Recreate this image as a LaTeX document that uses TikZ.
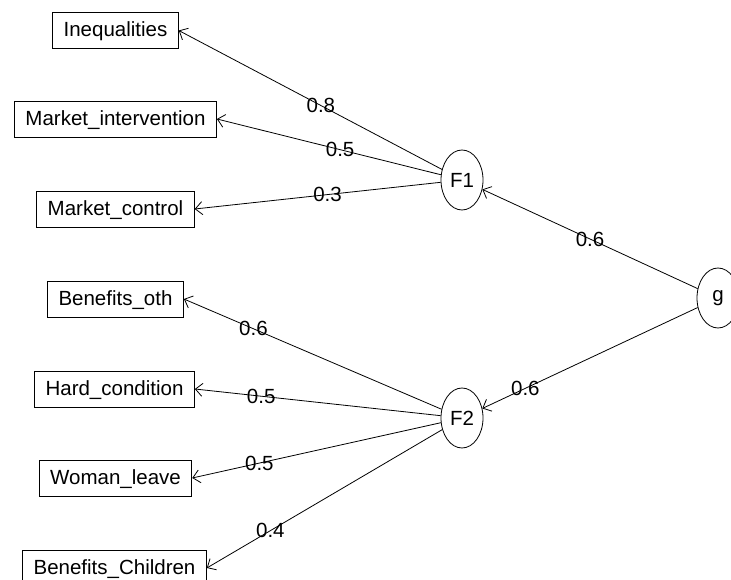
\documentclass[tikz,border=0pt]{standalone}
\usepackage{fontspec}
\setmainfont{Liberation Sans}
\usetikzlibrary{arrows.meta}
\usetikzlibrary{shapes.geometric}

\begin{document}
\begin{tikzpicture}[x=1pt, y=-1pt,
    font=\fontsize{20.5}{24}\selectfont,
    manifest/.style={draw, line width=0.8pt, minimum height=36pt, inner xsep=11pt, inner ysep=0pt,
      text height=15pt, text depth=2pt},
    latent/.style={draw, ellipse, line width=0.8pt, minimum width=42pt, minimum height=60pt, inner sep=0pt},
    path/.style={line width=0.8pt, -{Straight Barb[length=7pt, width=13pt]}},
    weight/.style={inner sep=0pt}]
    \useasboundingbox (0, 0) rectangle (731, 580);

    \node [latent] (g) at (718, 298) {g};
    \node [latent] (F1) at (462, 180) {F1};
    \node [latent] (F2) at (462, 418) {F2};

    \node [manifest] (ineq) at (115.5, 30.5) {Inequalities};
    \node [manifest] (mint) at (115.5, 119) {Market\_intervention};
    \node [manifest] (mcon) at (115.5, 209) {Market\_control};
    \node [manifest] (both) at (115.5, 299) {Benefits\_oth};
    \node [manifest] (hard) at (114.5, 389) {Hard\_condition};
    \node [manifest] (wlea) at (115.5, 478) {Woman\_leave};
    \node [manifest] (bchi) at (114.5, 568) {Benefits\_Children};

    \draw [path] (g) -- node [weight, pos=0.5] {0.6} (F1);
    \draw [path] (g) -- node [weight, pos=0.8] {0.6} (F2);

    \draw [path] (F1) -- node [weight, pos=0.46] {0.8} (ineq.east);
    \draw [path] (F1) -- node [weight, pos=0.45] {0.5} (mint.east);
    \draw [path] (F1) -- node [weight, pos=0.46] {0.3} (mcon.east);

    \draw [path] (F2) -- node [weight, pos=0.73] {0.6} (both.east);
    \draw [path] (F2) -- node [weight, pos=0.73] {0.5} (hard.east);
    \draw [path] (F2) -- node [weight, pos=0.73] {0.5} (wlea.east);
    \draw [path] (F2) -- node [weight, pos=0.73] {0.4} (bchi.east);
  \end{tikzpicture}
\end{document}
